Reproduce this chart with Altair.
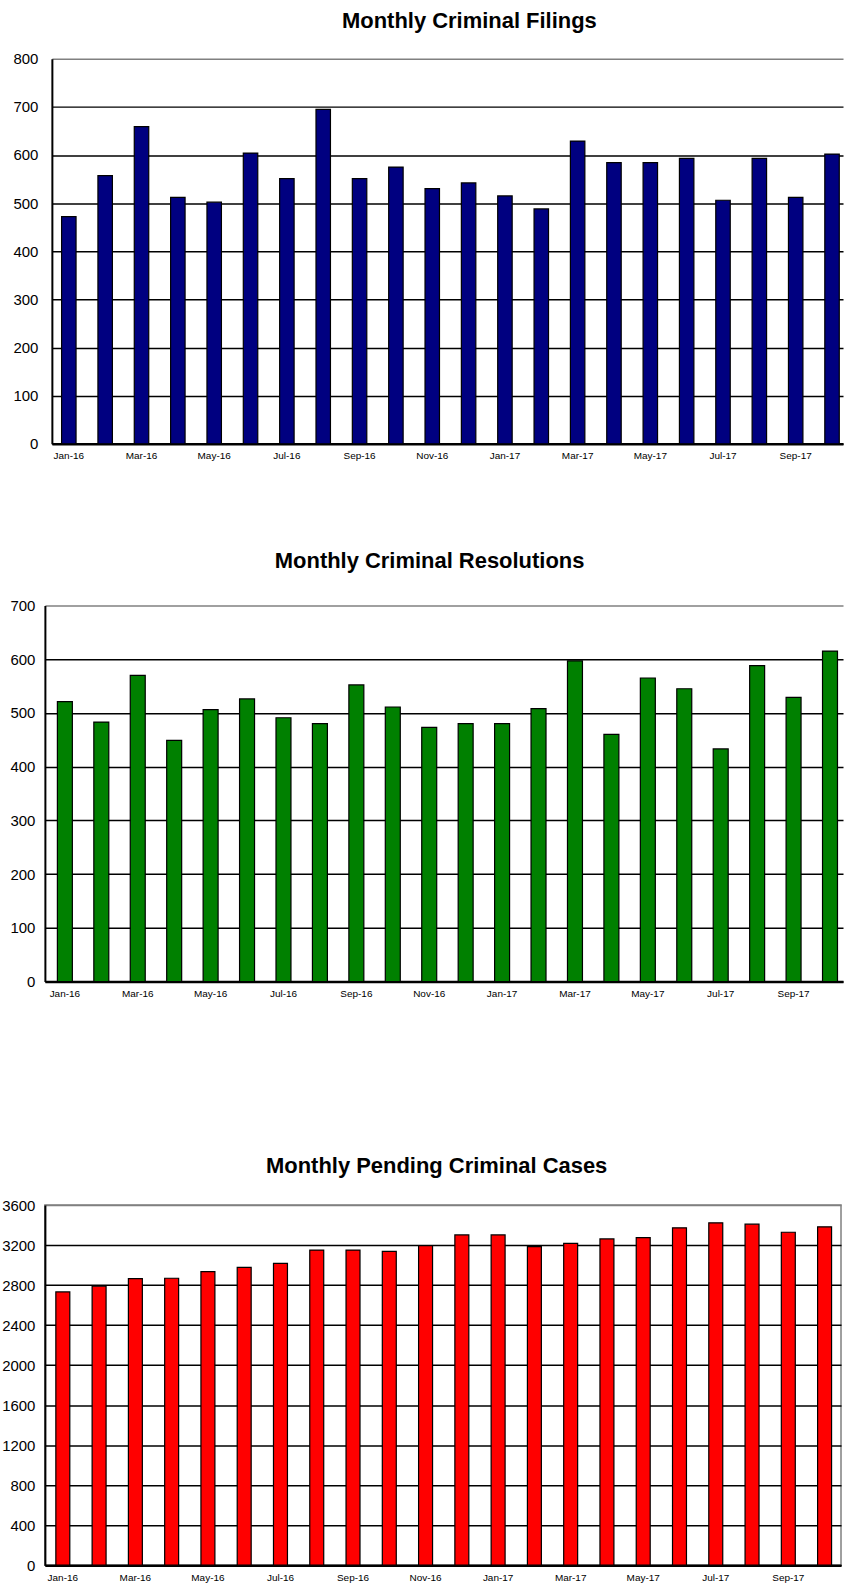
import altair as alt
import pandas as pd

months = ["Jan-16", "Feb-16", "Mar-16", "Apr-16", "May-16", "Jun-16", "Jul-16", "Aug-16",
          "Sep-16", "Oct-16", "Nov-16", "Dec-16", "Jan-17", "Feb-17", "Mar-17", "Apr-17",
          "May-17", "Jun-17", "Jul-17", "Aug-17", "Sep-17", "Oct-17"]
label_months = ["Jan-16", "Mar-16", "May-16", "Jul-16", "Sep-16", "Nov-16",
                "Jan-17", "Mar-17", "May-17", "Jul-17", "Sep-17"]

filings = [472, 557, 659, 512, 502, 604, 551, 695, 551, 575, 530, 542,
           515, 488, 629, 584, 584, 593, 506, 593, 512, 602]
resolutions = [521, 483, 570, 449, 506, 526, 491, 480, 552, 511, 473, 480,
               480, 508, 597, 460, 565, 545, 433, 588, 529, 615]
pending = [2731, 2788, 2865, 2868, 2935, 2976, 3016, 3150, 3150, 3137, 3194, 3301,
           3301, 3184, 3217, 3261, 3275, 3372, 3422, 3409, 3328, 3382]

titles = ["Monthly Criminal Filings", "Monthly Criminal Resolutions", "Monthly Pending Criminal Cases"]
y_ticks_1 = list(range(0, 801, 100))
y_ticks_2 = list(range(0, 701, 100))
y_ticks_3 = list(range(0, 3601, 400))

FONT = "Liberation Sans"


def make_chart(values, color, title, ymax, yticks, width, height, pi, po, align,
               title_dx, title_offset, view_stroke="transparent", shift=0, label_pad=10):
    df = pd.DataFrame({"month": months, "value": values})
    xscale = dict(paddingInner=pi, paddingOuter=po, align=align)
    if shift:
        xscale["rangeMin"] = shift
    yaxis = dict(values=yticks, format="d", ticks=False, tickSize=0,
                 labelFont=FONT, labelFontSize=15, labelColor="black",
                 labelPadding=label_pad, domainColor="black", domainWidth=2,
                 minExtent=44, maxExtent=44,
                 grid=True, gridWidth=1.5,
                 gridColor=alt.condition(f"datum.value == {ymax}",
                                         alt.value("#808080"), alt.value("black")))
    if shift:
        yaxis["offset"] = -shift
    return alt.Chart(df).mark_bar(color=color, stroke="black", strokeWidth=1.2).encode(
        x=alt.X("month:N", sort=months, title=None,
                scale=alt.Scale(**xscale),
                axis=alt.Axis(values=label_months, labelAngle=0, ticks=False, tickSize=0,
                              labelFont=FONT, labelFontSize=10, labelColor="black",
                              labelPadding=7, domainColor="black", domainWidth=2.5,
                              grid=False)),
        y=alt.Y("value:Q", title=None,
                scale=alt.Scale(domain=[0, ymax], nice=False, zero=True),
                axis=alt.Axis(**yaxis)),
    ).properties(
        width=width, height=height,
        view=alt.ViewBackground(stroke=view_stroke, strokeWidth=1.5),
        title=alt.TitleParams(title, fontSize=22, font=FONT, fontWeight="bold",
                              color="black", anchor="middle", frame="group",
                              dx=title_dx, offset=title_offset, baseline="alphabetic"),
    )


spacer_df = pd.DataFrame({"s": [0]})


def spacer(h):
    return alt.Chart(spacer_df).mark_point(opacity=0).encode(
        x=alt.X("s:Q", axis=None), y=alt.Y("s:Q", axis=None)
    ).properties(width=1, height=h, view=alt.ViewBackground(stroke="transparent"))


c1 = make_chart(filings, "#000080", titles[0], 800, y_ticks_1, 800, 386,
                0.602, 0.185, 0.722, 25.5, 2, shift=7, label_pad=14)
c2 = make_chart(resolutions, "#008000", titles[1], 700, y_ticks_2, 800, 377,
                0.589, 0.247, 0.694, -14.4, 9)
c3 = make_chart(pending, "#FF0000", titles[2], 3600, y_ticks_3, 798, 361,
                0.615, 0.281, 0.537, -6.3, 3, view_stroke="#808080")

chart = alt.vconcat(c1, spacer(162), c2, spacer(224), c3, spacing=0, bounds="flush").properties(
    padding={"left": 0, "top": 7, "right": 0, "bottom": 0}
).configure_view(stroke="transparent").configure(background="white")

chart.save("out.html", embed_options={"renderer": "svg", "actions": False})
